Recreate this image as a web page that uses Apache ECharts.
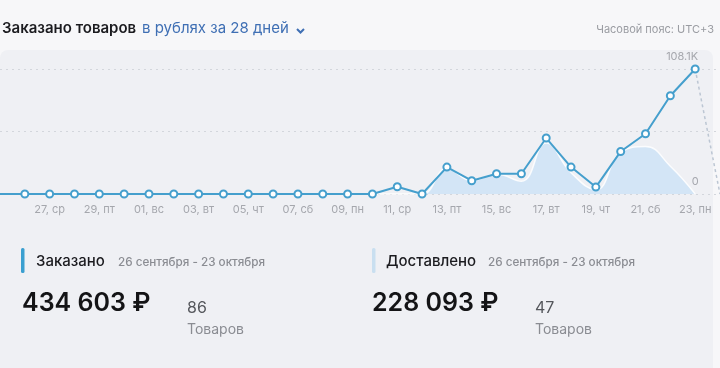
<!DOCTYPE html>
<html><head><meta charset="utf-8">
<script src="https://cdn.jsdelivr.net/npm/echarts@6/dist/echarts.min.js"></script>
<style>
html,body{margin:0;padding:0;background:#f7f7f9;}
#c{width:720px;height:368px;}
</style></head>
<body><div id="c"></div>
<script>
// Categories: 25 Sep .. 24 Oct (first and last are outside the visible range)
const categories = ["25, пн","26, вт","27, ср","28, чт","29, пт","30, сб","01, вс","02, пн","03, вт","04, ср","05, чт","06, пт","07, сб","08, вс","09, пн","10, вт","11, ср","12, чт","13, пт","14, сб","15, вс","16, пн","17, вт","18, ср","19, чт","20, пт","21, сб","22, вс","23, пн","24, вт"];
// Ordered (rubles)
const ordered = [0,0,0,0,0,0,0,0,0,0,0,0,0,0,0,0,6300,0,23300,11500,17500,17500,48400,23300,6000,36800,52100,85000,108100,null];
// Continuation (dashed) after last day
const orderedTail = [null,null,null,null,null,null,null,null,null,null,null,null,null,null,null,null,null,null,null,null,null,null,null,null,null,null,null,null,108100,0];
// Delivered (rubles)
const delivered = [0,0,0,0,0,0,0,0,0,0,0,0,0,0,0,0,0,0,22000,11500,17300,11000,44000,18400,3700,36000,41000,24000,0,null];
const yMax = 108100;

const FONT = 'Inter, "Noto Sans", sans-serif';
const chart = echarts.init(document.getElementById('c'));
const lastIdx = 28;
const fmtK = v => (v/1000).toFixed(1) + 'K';

chart.setOption({
  animation:false,
  textStyle:{fontFamily:FONT},
  graphic:[
    {type:'rect', shape:{x:0,y:50,width:713,height:330,r:8}, style:{fill:'#eff0f4'}, z:-10},
    {type:'text', left:2, top:21, style:{text:'Заказано товаров', font:'600 15px '+FONT, fill:'#1b1b1f'}},
    {type:'text', left:142, top:21, style:{text:'в рублях за 28 дней', font:'400 15px '+FONT, fill:'#3f6fb4'}},
    {type:'polyline', shape:{points:[[297,29],[300.5,32.5],[304,29]]}, style:{stroke:'#3f6fb4', lineWidth:2, fill:null}},
    {type:'text', right:6, top:24, style:{text:'Часовой пояс: UTC+3', font:'400 11px '+FONT, fill:'#9a9ca2'}},
    // stats: left
    {type:'rect', shape:{x:21,y:248,width:3.5,height:25,r:1.5}, style:{fill:'#3a9fd0'}},
    {type:'text', left:36, top:254, style:{text:'Заказано', font:'500 15px '+FONT, fill:'#1b1b1f'}},
    {type:'text', left:118, top:256, style:{text:'26 сентября - 23 октября', font:'500 11.7px '+FONT, fill:'#8a8c92'}},
    {type:'text', left:22, top:291, style:{text:'434 603 ₽', font:'600 25px '+FONT, fill:'#141416'}},
    {type:'text', left:187, top:300, style:{text:'86', font:'400 16px '+FONT, fill:'#55575c'}},
    {type:'text', left:187, top:323, style:{text:'Товаров', font:'400 14px '+FONT, fill:'#8a8c92'}},
    // stats: right
    {type:'rect', shape:{x:372,y:248,width:3.5,height:25,r:1.5}, style:{fill:'#c9dff0'}},
    {type:'text', left:386, top:254, style:{text:'Доставлено', font:'500 15px '+FONT, fill:'#1b1b1f'}},
    {type:'text', left:488, top:256, style:{text:'26 сентября - 23 октября', font:'500 11.7px '+FONT, fill:'#8a8c92'}},
    {type:'text', left:372, top:291, style:{text:'228 093 ₽', font:'600 25px '+FONT, fill:'#141416'}},
    {type:'text', left:535, top:300, style:{text:'47', font:'400 16px '+FONT, fill:'#55575c'}},
    {type:'text', left:535, top:323, style:{text:'Товаров', font:'400 14px '+FONT, fill:'#8a8c92'}}
  ],
  grid:{left:-3, right:0, top:69, bottom:174, containLabel:false},
  xAxis:{
    type:'category', data:categories, boundaryGap:false,
    axisLine:{show:false}, axisTick:{show:false},
    axisLabel:{interval:(i)=> i>=2 && i<=28 && i%2===0, color:'#a5a7ad', fontSize:11, margin:10, fontFamily:FONT}
  },
  yAxis:{
    type:'value', min:0, max:yMax, interval:yMax/2,
    axisLabel:{show:false}, axisLine:{show:false}, axisTick:{show:false},
    splitLine:{lineStyle:{color:'#d3d6dc', type:[2,4], width:1}}
  },
  series:[
    {
      type:'line', name:'Доставлено', smooth:0.45, symbol:'circle', symbolSize:1, showSymbol:true,
      itemStyle:{color:'rgba(0,0,0,0)'},
      data: delivered.map((v,i)=> i===lastIdx ? {value:v, label:{show:true, position:'top', distance:6, color:'#a5a7ad', fontSize:11, formatter:'0'}} : v),
      lineStyle:{color:'rgba(255,255,255,0.85)', width:1.5},
      areaStyle:{color:'#d3e5f6', opacity:1},
      z:1
    },
    {
      type:'line', name:'tail', symbol:'none', silent:true,
      data: orderedTail,
      lineStyle:{color:'#bcc6d3', width:1.5, type:[3,3]},
      z:2
    },
    {
      type:'line', name:'Заказано', symbol:'emptyCircle', symbolSize:7,
      data: ordered.map((v,i)=> {
        if (i===0) return {value:v, symbol:'none'};
        if (i===lastIdx) return {value:v, label:{show:true, position:'top', distance:2, offset:[-13,0], color:'#a5a7ad', fontSize:11, formatter:(p)=>fmtK(p.value)}};
        return v;
      }),
      lineStyle:{color:'#459fcd', width:2},
      itemStyle:{color:'#459fcd', borderWidth:2, borderColor:'#459fcd'},
      z:3
    }
  ]
});
</script></body></html>
